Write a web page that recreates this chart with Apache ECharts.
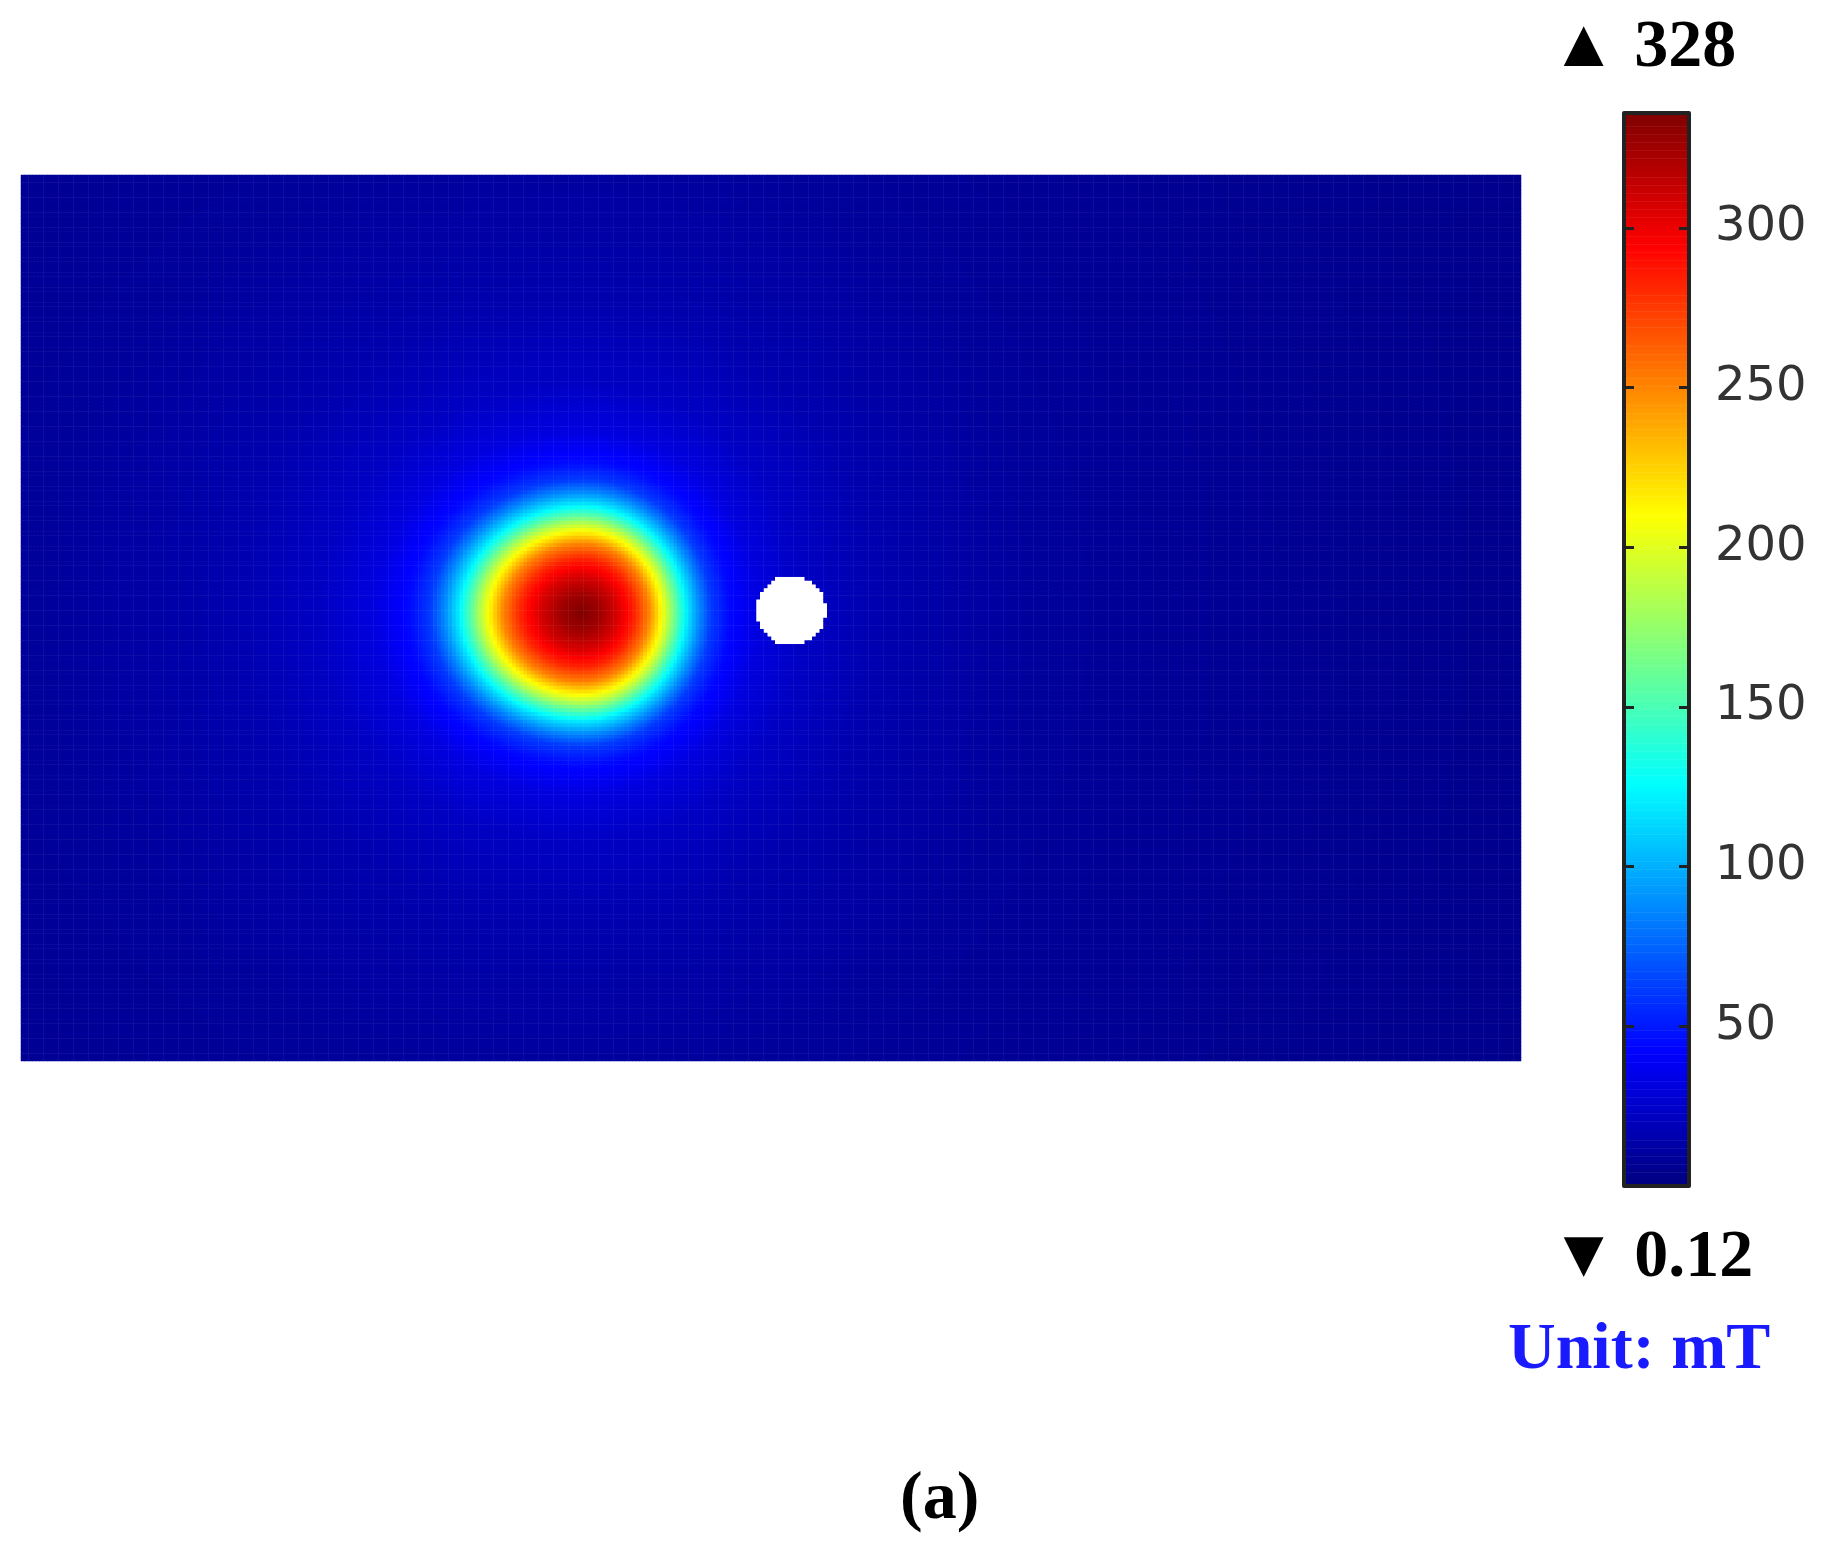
<!DOCTYPE html>
<html>
<head>
<meta charset="utf-8">
<script src="https://cdn.jsdelivr.net/npm/echarts@6/dist/echarts.min.js"></script>
<style>html,body{margin:0;padding:0;background:#fff}#main{width:1841px;height:1563px}</style>
</head>
<body>
<div id="main"></div>
<script>
// 场分布（单位 mT），坐标按图中板面 0..128 x 0..75.5
var plateW = 128, plateH = 75.5;
var nx = 400, ny = 236;
var spotCenter = [47.9, 38.2];
var holeCenter = [65.7, 38.4], holeR = 3.0;
// 径向剖面：距离 -> 磁感应强度
var profileR = [0, 1.5, 3, 4.5, 5.7, 6.5, 7.3, 8.1, 9, 10, 11, 12.5, 15, 19, 26, 40, 65, 100];
var profileV = [328, 318, 300, 275, 245, 215, 185, 150, 115, 85, 60, 44, 31, 22, 15, 9, 6, 4];
var barTicks = [50, 100, 150, 200, 250, 300];
var vMin = 0.12, vMax = 328;
var jet = ['#00007f', '#0000ff', '#007fff', '#00ffff', '#7fff7f', '#ffff00', '#ff7f00', '#ff0000', '#7f0000'];

function lookup(r) {
    for (var i = 1; i < profileR.length; i++) {
        if (r <= profileR[i]) {
            var t = (r - profileR[i - 1]) / (profileR[i] - profileR[i - 1]);
            return profileV[i - 1] + t * (profileV[i] - profileV[i - 1]);
        }
    }
    return profileV[profileV.length - 1];
}

var xCats = [], yCats = [], field = [];
for (var i = 0; i < nx; i++) xCats.push(i);
for (var j = 0; j < ny; j++) yCats.push(j);
for (var i = 0; i < nx; i++) {
    for (var j = 0; j < ny; j++) {
        var x = (i + 0.5) * plateW / nx, y = (j + 0.5) * plateH / ny;
        var dh = Math.hypot(x - holeCenter[0], y - holeCenter[1]);
        if (dh < holeR) continue;
        var dx = x - spotCenter[0];
        if (dx < 0) dx *= 0.85; // 左侧衰减较慢
        var r = Math.hypot(dx, (y - spotCenter[1]) * 0.97);
        field.push([i, j, lookup(r)]);
    }
}

// 色条
var barCats = [], barData = [];
for (var k = 0; k < 400; k++) {
    barCats.push(k);
    barData.push([0, k, vMin + (vMax - vMin) * (k + 0.5) / 400]);
}

function tickAxis(pos, labels) {
    return {type: 'value', gridIndex: 1, min: 0, max: 336, interval: 50, position: pos, z: 10,
        axisLine: {show: true, lineStyle: {color: '#222', width: 4}},
        axisTick: {show: true, inside: true, length: 10, lineStyle: {color: '#222', width: 3}},
        axisLabel: {show: labels, margin: 26, color: '#333', fontSize: 48, fontFamily: 'DejaVu Sans',
            showMinLabel: false, showMaxLabel: false,
            formatter: function (v) { return barTicks.indexOf(v) >= 0 ? String(v) : ''; }},
        splitLine: {show: false}};
}

var Chart = echarts.init(document.getElementById('main'));
Chart.setOption({
    backgroundColor: '#fff',
    animation: false,
    grid: [
        {left: 21, top: 175, width: 1500, height: 886},
        {left: 1624, top: 113, width: 65, height: 1073}
    ],
    xAxis: [
        {type: 'category', data: xCats, gridIndex: 0, show: false},
        {type: 'category', data: [0], gridIndex: 1, show: false}
    ],
    yAxis: [
        {type: 'category', data: yCats, gridIndex: 0, show: false},
        {type: 'category', data: barCats, gridIndex: 1, show: false},
        tickAxis('left', false),
        tickAxis('right', true)
    ],
    visualMap: {
        show: false, min: vMin, max: vMax, seriesIndex: [0, 1],
        inRange: {color: jet}
    },
    series: [
        {type: 'heatmap', xAxisIndex: 0, yAxisIndex: 0, data: field, progressive: 0},
        {type: 'heatmap', xAxisIndex: 1, yAxisIndex: 1, data: barData, progressive: 0}
    ],
    graphic: [
        {type: 'rect', z: 20, shape: {x: 1624, y: 111, width: 65, height: 4}, style: {fill: '#222'}},
        {type: 'rect', z: 20, shape: {x: 1624, y: 1184, width: 65, height: 4}, style: {fill: '#222'}},
        {type: 'text', left: 1550, top: 14, style: {text: '▲ 328', fontSize: 68, fontWeight: 'bold', fontFamily: 'Liberation Serif', fill: '#000'}},
        {type: 'text', left: 1550, top: 1224, style: {text: '▼ 0.12', fontSize: 68, fontWeight: 'bold', fontFamily: 'Liberation Serif', fill: '#000'}},
        {type: 'text', left: 1508, top: 1318, style: {text: 'Unit: mT', fontSize: 66, fontWeight: 'bold', fontFamily: 'Liberation Serif', fill: '#1a1aff'}},
        {type: 'text', left: 900, top: 1466, style: {text: '(a)', fontSize: 68, fontWeight: 'bold', fontFamily: 'Liberation Serif', fill: '#000'}}
    ]
});
</script>
</body>
</html>
